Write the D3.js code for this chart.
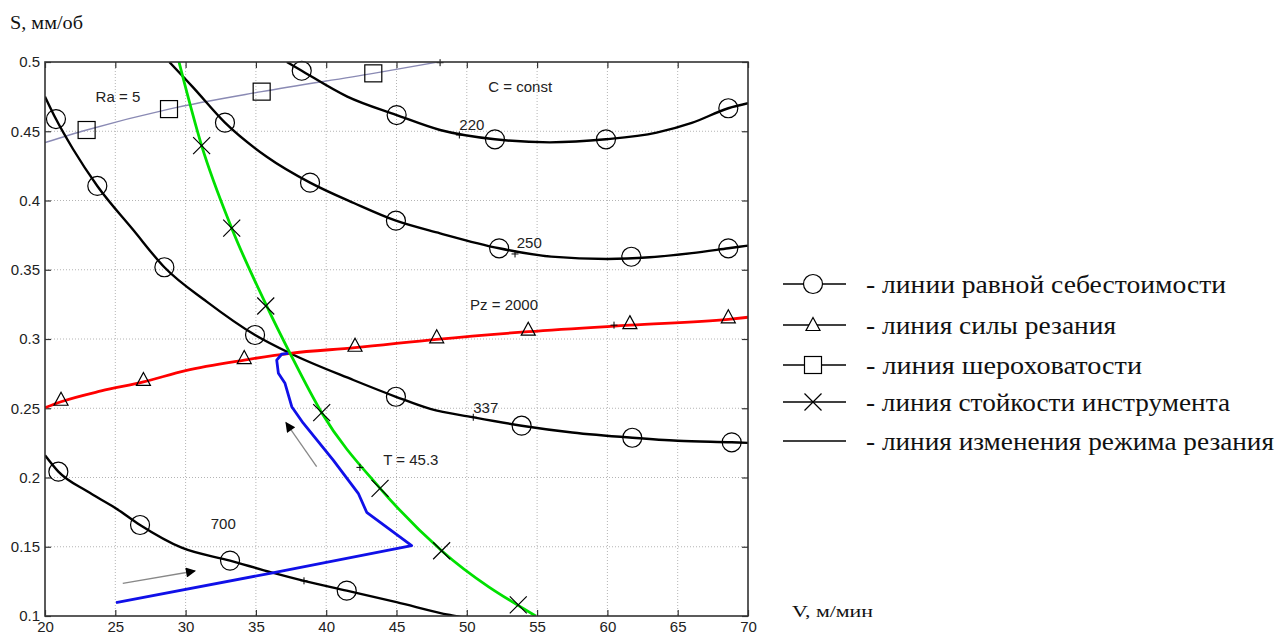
<!DOCTYPE html>
<html>
<head>
<meta charset="utf-8">
<script src="https://cdn.jsdelivr.net/npm/d3@7"></script>
<style>
  html, body { margin: 0; padding: 0; background: #fff; }
  svg { display: block; }
</style>
</head>
<body>
<svg id="chart"></svg>
<script>
// Axis ticks
const vTicks = [20, 25, 30, 35, 40, 45, 50, 55, 60, 65, 70];
const sTicks = [0.1, 0.15, 0.2, 0.25, 0.3, 0.35, 0.4, 0.45, 0.5];

// Lines of equal cost (V, S)
const cost220 = [[37.2,0.5],[38.26,0.4937],[41.5,0.475],[45.01,0.4617],[48.1,0.4509],[52.0,0.4442],[55.9,0.442],[59.9,0.4442],[63.5,0.449],[66,0.456],[68.6,0.4666],[70,0.4702]];
const cost250 = [[28.84,0.5],[30.5,0.482],[32.8,0.4562],[35.77,0.4316],[38.85,0.4129],[42,0.398],[44.96,0.3854],[48.1,0.3763],[52.3,0.3655],[56,0.3595],[60,0.3578],[63,0.359],[66,0.362],[68.6,0.3655],[70,0.3674]];
const cost337 = [[20,0.475],[20.78,0.4588],[22,0.437],[23.72,0.4105],[26.28,0.3787],[28.49,0.3518],[31.5,0.327],[34.94,0.3029],[37.43,0.2897],[41.93,0.2704],[44.96,0.2583],[47.4,0.2495],[50.46,0.2435],[53.9,0.2374],[57.5,0.2325],[61.77,0.2287],[65,0.2265],[68.84,0.2254],[70,0.225]];
const cost700 = [[20,0.216],[20.95,0.2042],[23,0.19],[25,0.178],[26.76,0.1657],[29.72,0.1493],[33.16,0.14],[36.1,0.1315],[38.42,0.1254],[41.46,0.1183],[45,0.11],[48.8,0.1007],[49.7,0.099]];
const costMarks = [
  [38.26,0.4937],[45.01,0.4617],[52.0,0.4442],[59.9,0.4442],[68.6,0.4666],
  [32.8,0.4562],[38.85,0.4129],[44.96,0.3854],[52.3,0.3655],[61.7,0.3594],[68.6,0.3655],
  [20.78,0.4588],[23.72,0.4105],[28.49,0.3518],[34.94,0.3029],[44.96,0.2583],[53.9,0.2374],[61.77,0.2287],[68.84,0.2254],
  [20.95,0.2042],[26.76,0.1657],[33.16,0.14],[41.46,0.1183]
];

// Roughness line Ra = 5
const raLine = [[20,0.4418],[22.96,0.4509],[28.82,0.466],[35.41,0.4786],[43.35,0.4918],[47.86,0.4998]];
const raMarks = [[22.96,0.4509],[28.82,0.466],[35.41,0.4786],[43.35,0.4918]];

// Cutting force line Pz = 2000
const pzLine = [[20,0.2504],[21.14,0.2547],[24,0.2625],[27,0.269],[30,0.2772],[34.17,0.2848],[37.43,0.2897],[42.05,0.2937],[47.86,0.2998],[54.37,0.3053],[61.6,0.31],[68.6,0.3142],[70,0.3157]];
const pzMarks = [[21.14,0.2547],[27,0.269],[34.17,0.2848],[42.05,0.2937],[47.86,0.2998],[54.37,0.3053],[61.6,0.31],[68.6,0.3142]];

// Tool life line T = 45.3
const tLine = [[29.53,0.5],[31.14,0.4396],[33.28,0.38],[35.77,0.3238],[37.43,0.2897],[39.68,0.2468],[43.83,0.1922],[48.21,0.1471],[54.9,0.1]];
const tMarks = [[31.14,0.4396],[33.28,0.38],[35.7,0.3238],[39.68,0.2468],[43.83,0.1922],[48.21,0.1471],[53.66,0.108]];

// Cutting mode change path
const modePath = [[25.05,0.1096],[36.1,0.131],[46.08,0.1508],[42.88,0.1749],[42.28,0.1886],[40.5,0.2126],[38.37,0.2392],[37.55,0.2511],[37.07,0.268],[36.6,0.2752],[36.48,0.2848],[36.83,0.289],[37.3,0.2897]];

// Arrows [from, to]
const arrows = [
  [[25.53,0.1236],[30.67,0.1325]],
  [[39.32,0.2078],[37.14,0.2396]]
];

// small "+" marks at contour labels
const plusMarks = [[38.42,0.1254],[42.4,0.2073],[50.46,0.2435],[53.43,0.3614],[49.47,0.4473],[60.47,0.31],[48.1,0.4995]];

// text labels in the plot
const plotLabels = [
  { text: "Ra = 5", v: 23.6, s: 0.4713 },
  { text: "C = const", v: 51.53, s: 0.4786 },
  { text: "220", v: 49.47, s: 0.4509 },
  { text: "250", v: 53.55, s: 0.3657 },
  { text: "Pz = 2000", v: 50.23, s: 0.321 },
  { text: "337", v: 50.46, s: 0.2466 },
  { text: "T = 45.3", v: 44.06, s: 0.209 },
  { text: "700", v: 31.79, s: 0.1628 }
];

// legend
const legendTypes = ["circle", "triangle", "square", "x", "none"];
const legendTexts = [
  "- линии равной себестоимости",
  "- линия силы резания",
  "- линия шероховатости",
  "- линия стойкости инструмента",
  "- линия изменения режима резания"
];
const legendWidths = [360, 250, 276, 364, 408];

const W = 1277, H = 634;
const plot = { left: 45, right: 748, top: 62, bottom: 616 };

const svg = d3.select("#chart").attr("width", W).attr("height", H);

const x = d3.scaleLinear().domain([20, 70]).range([plot.left, plot.right]);
const y = d3.scaleLinear().domain([0.1, 0.5]).range([plot.bottom, plot.top]);

svg.append("defs").append("clipPath").attr("id", "clip")
  .append("rect")
  .attr("x", plot.left).attr("y", plot.top)
  .attr("width", plot.right - plot.left).attr("height", plot.bottom - plot.top);

// Grid (dotted)
const grid = svg.append("g");
grid.selectAll(".gx").data(vTicks.slice(1, -1)).enter().append("line")
  .attr("x1", d => x(d)).attr("x2", d => x(d))
  .attr("y1", plot.top).attr("y2", plot.bottom)
  .attr("stroke", "#b4b4b4").attr("stroke-dasharray", "1,2");
grid.selectAll(".gy").data(sTicks.slice(1, -1)).enter().append("line")
  .attr("y1", d => y(d)).attr("y2", d => y(d))
  .attr("x1", plot.left).attr("x2", plot.right)
  .attr("stroke", "#b4b4b4").attr("stroke-dasharray", "1,2");

// Axes
const fmt = d => String(+d.toFixed(2));
const axisFont = "'Liberation Sans', Arial, sans-serif";

const gB = svg.append("g").attr("transform", `translate(0,${plot.bottom})`)
  .call(d3.axisBottom(x).tickValues(vTicks).tickSize(-6).tickPadding(5.5).tickFormat(fmt));
const gL = svg.append("g").attr("transform", `translate(${plot.left},0)`)
  .call(d3.axisLeft(y).tickValues(sTicks).tickSize(-6).tickPadding(5).tickFormat(fmt));
const gT = svg.append("g").attr("transform", `translate(0,${plot.top})`)
  .call(d3.axisTop(x).tickValues(vTicks).tickSize(-6).tickFormat(""));
const gR = svg.append("g").attr("transform", `translate(${plot.right},0)`)
  .call(d3.axisRight(y).tickValues(sTicks).tickSize(-6).tickFormat(""));

[gB, gL, gT, gR].forEach(g => {
  g.select(".domain").remove();
  g.selectAll(".tick line").attr("stroke", "#333").attr("stroke-width", 1.2);
  g.selectAll("text").attr("fill", "#222").style("font-family", axisFont).style("font-size", "15px");
});

// Curves
const plotG = svg.append("g").attr("clip-path", "url(#clip)");
const smooth = d3.line().x(d => x(d[0])).y(d => y(d[1])).curve(d3.curveMonotoneX);
const straight = d3.line().x(d => x(d[0])).y(d => y(d[1])).curve(d3.curveLinear);

plotG.append("path").datum(raLine).attr("d", smooth)
  .attr("fill", "none").attr("stroke", "#8a8ab4").attr("stroke-width", 1.4);

[cost220, cost250, cost337, cost700].forEach(c => {
  plotG.append("path").datum(c).attr("d", smooth)
    .attr("fill", "none").attr("stroke", "#000").attr("stroke-width", 2.4);
});

plotG.append("path").datum(pzLine).attr("d", smooth)
  .attr("fill", "none").attr("stroke", "#ff0000").attr("stroke-width", 2.8);

plotG.append("path").datum(tLine).attr("d", smooth)
  .attr("fill", "none").attr("stroke", "#00e000").attr("stroke-width", 2.8);

plotG.append("path").datum(modePath).attr("d", straight)
  .attr("fill", "none").attr("stroke", "#1010e8").attr("stroke-width", 2.8)
  .attr("stroke-linejoin", "round");

// marker drawing
function drawMarker(g, type, cx, cy, fill) {
  let el;
  if (type === "circle") {
    el = g.append("circle").attr("cx", cx).attr("cy", cy).attr("r", 9.5);
  } else if (type === "square") {
    el = g.append("rect").attr("x", cx - 8.5).attr("y", cy - 8.5).attr("width", 17).attr("height", 17);
  } else if (type === "triangle") {
    el = g.append("path").attr("d", `M${cx},${cy - 9.5}L${cx + 7},${cy + 3.5}L${cx - 7},${cy + 3.5}Z`);
  } else if (type === "x") {
    el = g.append("path").attr("d", `M${cx - 8.5},${cy - 8.5}L${cx + 8.5},${cy + 8.5}M${cx + 8.5},${cy - 8.5}L${cx - 8.5},${cy + 8.5}`);
  } else if (type === "plus") {
    el = g.append("path").attr("d", `M${cx - 3.5},${cy}L${cx + 3.5},${cy}M${cx},${cy - 3.5}L${cx},${cy + 3.5}`)
      .attr("stroke-width", 1);
  } else {
    return;
  }
  el.attr("fill", fill || "none").attr("stroke", "#000");
  if (type !== "plus") el.attr("stroke-width", 1.2);
}

const markG = svg.append("g");
costMarks.forEach(d => drawMarker(markG, "circle", x(d[0]), y(d[1])));
raMarks.forEach(d => drawMarker(markG, "square", x(d[0]), y(d[1])));
pzMarks.forEach(d => drawMarker(markG, "triangle", x(d[0]), y(d[1])));
tMarks.forEach(d => drawMarker(markG, "x", x(d[0]), y(d[1])));
plusMarks.forEach(d => drawMarker(markG, "plus", x(d[0]), y(d[1])));

// Arrows
const defs = svg.select("defs");
defs.append("marker").attr("id", "arrowHead")
  .attr("viewBox", "0 0 10 10").attr("refX", 9).attr("refY", 5)
  .attr("markerUnits", "userSpaceOnUse")
  .attr("markerWidth", 13).attr("markerHeight", 10).attr("orient", "auto")
  .append("path").attr("d", "M0,0L10,5L0,10Z").attr("fill", "#000");

arrows.forEach(a => {
  svg.append("line")
    .attr("x1", x(a[0][0])).attr("y1", y(a[0][1]))
    .attr("x2", x(a[1][0])).attr("y2", y(a[1][1]))
    .attr("stroke", "#888").attr("stroke-width", 1.3)
    .attr("marker-end", "url(#arrowHead)");
});

// Plot labels
svg.selectAll(".plabel").data(plotLabels).enter().append("text")
  .attr("x", d => x(d.v)).attr("y", d => y(d.s))
  .text(d => d.text)
  .style("font-family", axisFont).style("font-size", "15px").attr("fill", "#222");

// Frame
svg.append("rect")
  .attr("x", plot.left).attr("y", plot.top)
  .attr("width", plot.right - plot.left).attr("height", plot.bottom - plot.top)
  .attr("fill", "none").attr("stroke", "#333").attr("stroke-width", 1.6);

// Axis titles
const serif = "'Liberation Serif', 'Times New Roman', serif";
svg.append("text").attr("x", 10).attr("y", 29).text("S, мм/об")
  .attr("textLength", 73).attr("lengthAdjust", "spacingAndGlyphs")
  .style("font-family", serif).style("font-size", "19px").attr("fill", "#111");
svg.append("text").attr("x", 792).attr("y", 617).text("V, м/мин")
  .attr("textLength", 81).attr("lengthAdjust", "spacingAndGlyphs")
  .style("font-family", serif).style("font-size", "17px").attr("fill", "#111");

// Legend
const legendRows = [284, 325, 365, 402, 441];
const legG = svg.append("g");
legendTypes.forEach((t, i) => {
  const ry = legendRows[i];
  legG.append("line").attr("x1", 783).attr("x2", 846).attr("y1", ry).attr("y2", ry)
    .attr("stroke", "#000").attr("stroke-width", 1.3);
  drawMarker(legG, t, 813, t === "triangle" ? ry + 2 : ry, "#fff");
  legG.append("text").attr("x", 866).attr("y", ry + 9)
    .text(legendTexts[i])
    .attr("textLength", legendWidths[i]).attr("lengthAdjust", "spacingAndGlyphs")
    .style("font-family", serif).style("font-size", "26px").attr("fill", "#111");
});
</script>
</body>
</html>
